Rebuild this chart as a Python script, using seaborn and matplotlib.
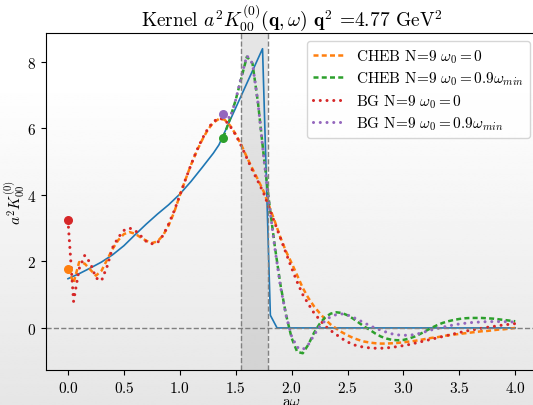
import matplotlib
matplotlib.use("Agg")
import matplotlib.pyplot as plt
import seaborn as sns
import numpy as np

# sampling grids
omega = np.linspace(0, 4, 81)
omega_shift = np.concatenate([[1.39], np.linspace(1.45, 4.0, 52)])

# exact kernel (blue)
kernel_x = [0.0, 0.1, 0.2, 0.3, 0.4, 0.5, 0.6, 0.7, 0.8, 0.9, 1.0, 1.1, 1.2, 1.3, 1.35,
            1.74, 1.81, 1.87, 4.0]
kernel_y = [1.48, 1.63, 1.80, 1.98, 2.20, 2.47, 2.80, 3.12, 3.42, 3.70, 4.02, 4.40, 4.82, 5.25, 5.50,
            8.39, 0.38, 0.0, 0.0]

cheb_0 = [1.78, 1.35, 1.98, 1.93, 1.75, 1.57, 1.72, 2.05, 2.38, 2.64,
          2.82, 2.88, 2.83, 2.72, 2.62, 2.55, 2.60, 2.78, 3.08, 3.48,
          3.98, 4.45, 4.90, 5.30, 5.65, 5.95, 6.17, 6.28, 6.26, 6.08,
          5.82, 5.50, 5.13, 4.78, 4.45, 4.10, 3.65, 3.20, 2.72, 2.30,
          1.95, 1.58, 1.20, 0.90, 0.65, 0.45, 0.26, 0.10, -0.02, -0.13,
          -0.22, -0.30, -0.36, -0.41, -0.44, -0.46, -0.47, -0.47, -0.46, -0.45,
          -0.43, -0.41, -0.39, -0.36, -0.33, -0.30, -0.28, -0.25, -0.22, -0.20,
          -0.18, -0.16, -0.14, -0.12, -0.10, -0.09, -0.07, -0.05, -0.04, -0.02,
          0.00]

bg_0 = [3.23, 0.80, 1.78, 2.18, 1.95, 1.50, 1.42, 1.85, 2.42, 2.72,
        2.93, 3.00, 2.93, 2.77, 2.60, 2.53, 2.56, 2.78, 3.12, 3.52,
        3.98, 4.45, 4.90, 5.32, 5.68, 5.98, 6.20, 6.30, 6.26, 6.06,
        5.80, 5.47, 5.10, 4.73, 4.40, 4.05, 3.60, 3.15, 2.70, 2.25,
        1.80, 1.38, 1.00, 0.72, 0.45, 0.25, 0.06, -0.08, -0.20, -0.32,
        -0.42, -0.50, -0.55, -0.58, -0.60, -0.61, -0.61, -0.60, -0.58, -0.56,
        -0.53, -0.50, -0.46, -0.42, -0.38, -0.34, -0.30, -0.26, -0.22, -0.18,
        -0.14, -0.10, -0.07, -0.04, -0.01, 0.02, 0.04, 0.07, 0.09, 0.11,
        0.13]

cheb_shift = [5.72, 6.30, 6.85, 7.50, 8.15, 7.95, 6.75, 5.20, 3.75, 2.45,
              1.30, 0.40, -0.30, -0.72, -0.76, -0.50, -0.15, 0.12, 0.32, 0.43,
              0.47, 0.45, 0.38, 0.28, 0.16, 0.04, -0.06, -0.17, -0.26, -0.32,
              -0.36, -0.37, -0.36, -0.32, -0.26, -0.18, -0.09, 0.00, 0.08, 0.15,
              0.20, 0.24, 0.27, 0.29, 0.30, 0.30, 0.30, 0.29, 0.28, 0.26,
              0.24, 0.22, 0.20]

bg_shift = [6.44, 6.30, 6.85, 7.55, 8.18, 7.95, 6.75, 5.15, 3.70, 2.40,
            1.25, 0.38, -0.25, -0.58, -0.65, -0.50, -0.22, 0.04, 0.22, 0.34,
            0.40, 0.42, 0.39, 0.32, 0.24, 0.15, 0.07, -0.01, -0.07, -0.13,
            -0.18, -0.21, -0.22, -0.22, -0.20, -0.16, -0.11, -0.06, -0.02, 0.02,
            0.06, 0.09, 0.12, 0.14, 0.16, 0.17, 0.18, 0.19, 0.19, 0.19,
            0.19, 0.18, 0.18]

omega_min, omega_max = 1.547, 1.79

plt.rcParams['font.family'] = 'serif'
plt.rcParams['font.serif'] = ['cmr10']
plt.rcParams['mathtext.fontset'] = 'cm'
plt.rcParams['axes.formatter.use_mathtext'] = True
plt.rcParams['axes.unicode_minus'] = False

fig = plt.figure(figsize=(5.33, 4.06), dpi=100)

# slide-like grey gradient behind everything
bg = fig.add_axes([0, 0, 1, 1], zorder=-1)
grad = np.concatenate([np.ones(40), np.linspace(1.0, 0.9, 160)]).reshape(-1, 1)
bg.imshow(grad, aspect='auto', cmap='gray', vmin=0, vmax=1)
bg.axis('off')

ax = fig.add_axes([0.0856, 0.0857, 0.923, 0.8296])
ax.set_facecolor('none')

pal = sns.color_palette('tab10')
dash = (0, (2.0, 1.3))
dot = (0, (0.01, 2.2))

sns.lineplot(x=kernel_x, y=kernel_y, ax=ax, color=pal[0], lw=1.2)
sns.lineplot(x=omega, y=cheb_0, ax=ax, color=pal[1], lw=1.8, linestyle=dash,
             label=r'CHEB N=9 $\omega_0 = 0$')
sns.lineplot(x=omega_shift, y=cheb_shift, ax=ax, color=pal[2], lw=1.8, linestyle=dash,
             label=r'CHEB N=9 $\omega_0 = 0.9\omega_{min}$')
sns.lineplot(x=omega, y=bg_0, ax=ax, color=pal[3], lw=2.2, linestyle=dot,
             dash_capstyle='round', label=r'BG N=9 $\omega_0 = 0$')
sns.lineplot(x=omega_shift, y=bg_shift, ax=ax, color=pal[4], lw=2.2, linestyle=dot,
             dash_capstyle='round', label=r'BG N=9 $\omega_0 = 0.9\omega_{min}$')

# starting points
ax.scatter([omega[0]], [cheb_0[0]], color=pal[1], s=30, zorder=3)
ax.scatter([omega[0]], [bg_0[0]], color=pal[3], s=30, zorder=3)
ax.scatter([omega_shift[0]], [cheb_shift[0]], color=pal[2], s=30, zorder=3)
ax.scatter([omega_shift[0]], [bg_shift[0]], color=pal[4], s=30, zorder=3)

ax.axvspan(omega_min, omega_max, color='gray', alpha=0.2, lw=0)
ax.axvline(omega_min, color='gray', ls='--', lw=1)
ax.axvline(omega_max, color='gray', ls='--', lw=1)
ax.axhline(0, color='gray', ls='--', lw=1)

ax.set_xlim(-0.2, 4.2)
ax.set_ylim(-1.27, 8.85)
ax.set_xticks([0.0, 0.5, 1.0, 1.5, 2.0, 2.5, 3.0, 3.5, 4.0])
ax.set_yticks([0, 2, 4, 6, 8])
ax.tick_params(labelsize=11)
ax.set_xlabel(r'a$\omega$', fontsize=11)
ax.set_ylabel(r'$a^2K^{(0)}_{00}$', fontsize=11)
ax.xaxis.set_label_coords(0.5, -0.07)
ax.yaxis.set_label_coords(-0.037, 0.5)
ax.set_title(r'Kernel $a^2K^{(0)}_{00}(\mathbf{q},\omega)$ $\mathbf{q}^2$ =4.77 GeV$^2$', fontsize=14)
ax.legend(loc='upper right', fontsize=11, labelspacing=0.32)

fig.savefig('out.png', dpi=100)
